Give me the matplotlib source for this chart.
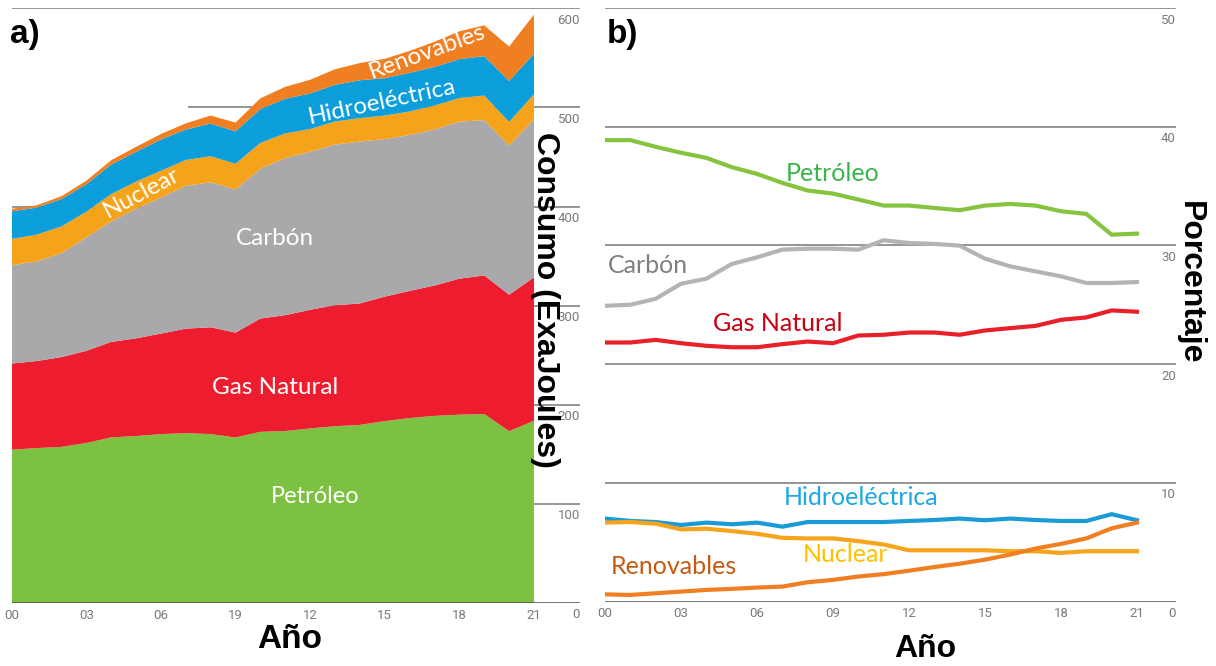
import numpy as np
import matplotlib.pyplot as plt

# Data.

years = np.arange(2000, 2022)

# a) consumption (ExaJoules), stacked
petroleo = [154.7, 156.3, 157.5, 161.4, 167.1, 168.4, 170.4, 171.4, 170.4, 167.0, 172.7,
            173.5, 176.1, 178.4, 179.7, 183.5, 186.6, 188.8, 190.0, 190.7, 173.4, 183.8]
gas = [86.9, 87.8, 90.6, 93.0, 96.3, 98.6, 101.4, 105.4, 107.8, 105.8, 114.3,
       116.9, 119.7, 122.0, 122.5, 125.6, 128.3, 131.5, 137.2, 139.8, 137.6, 144.8]
carbon = [99.2, 100.5, 104.8, 114.4, 121.6, 130.8, 137.2, 144.1, 146.3, 144.5, 151.2,
          158.3, 159.5, 162.1, 163.4, 158.9, 157.3, 157.5, 158.4, 156.7, 150.6, 159.6]
nuclear = [26.5, 27.0, 27.0, 26.0, 27.5, 27.4, 27.1, 26.1, 26.2, 25.9, 26.0,
           25.1, 22.9, 23.3, 23.6, 23.8, 23.7, 24.1, 23.8, 24.8, 23.8, 25.2]
hidro = [27.9, 27.3, 27.6, 27.6, 29.8, 30.0, 31.5, 30.7, 33.0, 32.6, 34.2,
         34.9, 35.9, 37.0, 38.2, 37.7, 39.0, 38.9, 39.3, 39.7, 41.3, 40.7]
renov = [2.5, 2.3, 2.9, 3.6, 4.4, 5.0, 5.6, 6.2, 8.1, 8.9, 10.8,
         12.1, 13.8, 15.7, 17.4, 19.5, 22.1, 25.4, 28.1, 31.1, 34.7, 39.5]

# b) share of primary energy (%)
pct_petroleo = [38.87, 38.87, 38.31, 37.81, 37.38, 36.60, 36.03, 35.27, 34.63, 34.37, 33.87,
                33.36, 33.36, 33.16, 32.97, 33.36, 33.50, 33.36, 32.88, 32.66, 30.91, 31.00]
pct_carbon = [24.92, 25.01, 25.51, 26.78, 27.20, 28.44, 29.00, 29.65, 29.73, 29.73, 29.65,
              30.44, 30.21, 30.13, 29.99, 28.89, 28.24, 27.82, 27.40, 26.84, 26.84, 26.92]
pct_gas = [21.83, 21.83, 22.05, 21.77, 21.55, 21.43, 21.43, 21.69, 21.91, 21.77, 22.42,
           22.48, 22.67, 22.67, 22.48, 22.84, 23.04, 23.23, 23.74, 23.94, 24.53, 24.42]
pct_hidro = [7.00, 6.80, 6.71, 6.46, 6.66, 6.52, 6.66, 6.32, 6.71, 6.71, 6.71,
             6.71, 6.80, 6.88, 7.00, 6.86, 7.00, 6.88, 6.80, 6.80, 7.37, 6.86]
pct_nuclear = [6.66, 6.71, 6.57, 6.09, 6.15, 5.95, 5.72, 5.38, 5.33, 5.33, 5.10,
               4.82, 4.33, 4.33, 4.33, 4.33, 4.25, 4.25, 4.11, 4.25, 4.25, 4.25]
pct_renov = [0.62, 0.57, 0.71, 0.85, 0.99, 1.08, 1.19, 1.27, 1.64, 1.84, 2.12,
             2.32, 2.61, 2.92, 3.20, 3.54, 3.97, 4.48, 4.87, 5.33, 6.18, 6.66]

xtick_years = [2000, 2003, 2006, 2009, 2012, 2015, 2018, 2021]
xlabels_a = ["00", "03", "06", "19", "12", "15", "18", "21"]
xlabels_b = ["00", "03", "06", "09", "12", "15", "18", "21"]
yticks_a = [0, 100, 200, 300, 400, 500, 600]
yticks_b = [0, 10, 20, 30, 40, 50]

# Styling
W, H = 1216, 666
grid_c = "#8c8c8c"
tick_c = "#7a7a7a"
area_colors = ["#7dc142", "#ed1c2e", "#a9a9ac", "#f6a31c", "#0c9ddb", "#f07f22"]
label_font = ["Lato", "DejaVu Sans"]
title_font = ["Liberation Sans", "DejaVu Sans"]

fig = plt.figure(figsize=(W / 100, H / 100), dpi=100)


def px_axes(x0, x1, y_top, y_bot):
    return fig.add_axes([x0 / W, 1 - y_bot / H, (x1 - x0) / W, (y_bot - y_top) / H])


def style_axes(ax, yticks, xlabels):
    for s in ax.spines.values():
        s.set_visible(False)
    ax.set_yticks([])
    ax.set_xticks(xtick_years)
    ax.set_xticklabels(xlabels)
    ax.tick_params(axis="x", length=0, pad=4, labelsize=9.5, labelcolor=tick_c)
    for lab in ax.get_xticklabels():
        lab.set_family(["Roboto", "DejaVu Sans"])
    for v in yticks:
        ax.annotate(str(v), xy=(1, v), xycoords=ax.get_yaxis_transform(),
                    xytext=(0, -12), textcoords="offset pixels",
                    ha="right", va="center", fontsize=9.5, color=tick_c,
                    family=["Roboto", "DejaVu Sans"])
    ax.axhline(0, color="#4a4a4a", lw=1.8, zorder=5)


# ---------------- a) stacked areas ----------------
ax1 = px_axes(11.7, 580, 8.3, 603)
ax1.set_xlim(2000, 2022.85)
ax1.set_ylim(0, 600)
grid_start_a = {100: 2000, 200: 2000, 300: 2000, 400: 2000, 500: 2007.1, 600: 2000}
for v, x0 in grid_start_a.items():
    ax1.hlines(v, x0, 2022.85, color=grid_c, lw=1.3, zorder=0)
ax1.stackplot(years, petroleo, gas, carbon, nuclear, hidro, renov,
              colors=area_colors, lw=0, zorder=2)
style_axes(ax1, yticks_a, xlabels_a)

txt = dict(color="white", family=label_font, ha="center", va="center", zorder=6)
ax1.text(2012.2, 107, "Petróleo", fontsize=17, **txt)
ax1.text(2010.6, 217, "Gas Natural", fontsize=17.5, **txt)
ax1.text(2010.6, 368, "Carbón", fontsize=17.5, **txt)
ax1.text(2005.2, 414, "Nuclear", fontsize=17.5, rotation=28, **txt)
ax1.text(2014.9, 505, "Hidroeléctrica", fontsize=17.5, rotation=12, **txt)
ax1.text(2016.7, 556, "Renovables", fontsize=17.5, rotation=20, **txt)

# ---------------- b) shares ----------------
ax2 = px_axes(605, 1176, 8, 601.7)
ax2.set_xlim(2000, 2022.54)
ax2.set_ylim(0, 50)
for v in yticks_b[1:]:
    ax2.axhline(v, color=grid_c, lw=1.3, zorder=0)

series_b = [
    (pct_petroleo, "#86c440", "Petróleo", "#39b54a", 2009.0, 36.1),
    (pct_carbon, "#b4b4b6", "Carbón", "#7f7f7f", 2001.7, 28.3),
    (pct_gas, "#e8202a", "Gas Natural", "#c8000f", 2006.8, 23.4),
    (pct_hidro, "#1a9ad7", "Hidroeléctrica", "#1ca8e3", 2010.1, 8.8),
    (pct_nuclear, "#f7a41d", "Nuclear", "#ffc000", 2009.5, 4.0),
    (pct_renov, "#f07f22", "Renovables", "#c55a11", 2002.7, 3.0),
]
for vals, lc, name, tc, tx, ty in series_b:
    ax2.plot(years, vals, color=lc, lw=3, solid_joinstyle="round", zorder=3)
    ax2.text(tx, ty, name, color=tc, fontsize=18, family=label_font,
             ha="center", va="center", zorder=6)
style_axes(ax2, yticks_b, xlabels_b)

# ---------------- titles ----------------
bold = dict(fontweight="bold", family=title_font, ha="center", va="center")
fig.text(545 / W, 1 - 300 / H, "Consumo (ExaJoules)", fontsize=23, rotation=270, **bold)
fig.text(1190 / W, 1 - 283 / H, "Porcentaje", fontsize=23, rotation=270, **bold)
fig.text(290 / W, 1 - 640 / H, "Año", fontsize=24, **bold)
fig.text(925 / W, 1 - 649 / H, "Año", fontsize=23, **bold)
fig.text(10 / W, 1 - 35 / H, "a)", fontsize=24, fontweight="bold", family=title_font,
         ha="left", va="center")
fig.text(607 / W, 1 - 35 / H, "b)", fontsize=24, fontweight="bold", family=title_font,
         ha="left", va="center")

fig.savefig("out.png", dpi=100)
